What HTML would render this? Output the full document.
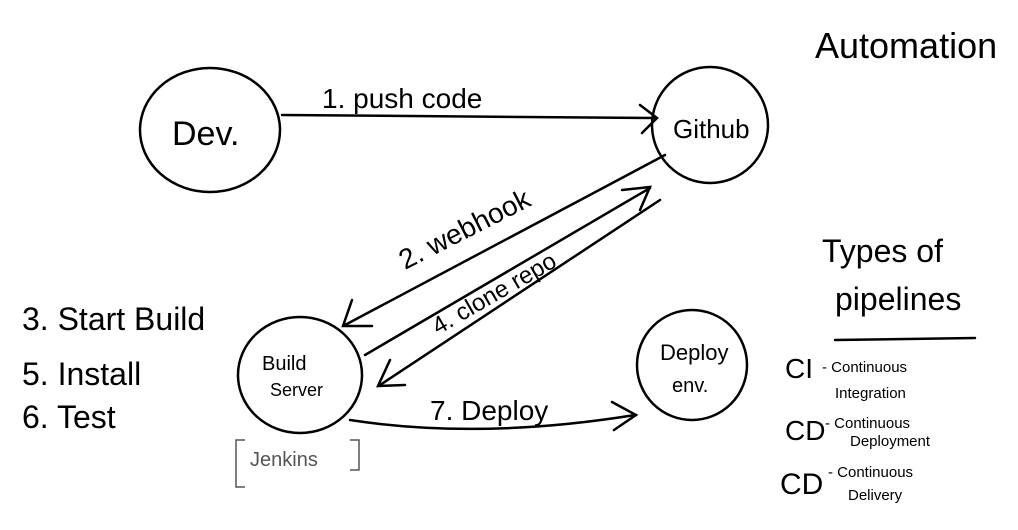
<!DOCTYPE html>
<html><head><meta charset="utf-8"><style>
html,body{margin:0;padding:0;background:#fff;}
svg{display:block}
text{font-family:"Liberation Sans",sans-serif;fill:#000}
</style></head><body>
<svg width="1018" height="530" viewBox="0 0 1018 530" xmlns="http://www.w3.org/2000/svg">
<g fill="none" stroke="#000" stroke-width="2.5" stroke-linecap="round">
<ellipse cx="210" cy="130" rx="70" ry="62"/>
<ellipse cx="710" cy="125" rx="58" ry="58"/>
<ellipse cx="300" cy="375" rx="62" ry="58"/>
<ellipse cx="692" cy="365" rx="55" ry="55"/>
<path d="M282 115 L655 118"/>
<path d="M640 105 L657 118 L642 133"/>
<path d="M665 155 L345 325"/>
<path d="M352 300 L343 326 L372 326"/>
<path d="M365 355 L650 188"/>
<path d="M622 190 L650 187 L640 210"/>
<path d="M660 200 L380 385"/>
<path d="M390 360 L378 386 L405 385"/>
<path d="M350 420 Q480 440 635 415"/>
<path d="M612 402 L636 415 L614 430"/>
<path d="M835 340 L975 338"/>
</g>
<g stroke="#555" stroke-width="1.5" fill="none">
<path d="M245 440 L236 440 L236 487 L245 487"/>
<path d="M350 440 L359 440 L359 470 L350 470"/>
</g>
<text x="172" y="145" font-size="34">Dev.</text>
<text x="673" y="138" font-size="26">Github</text>
<text x="262" y="370" font-size="20">Build</text>
<text x="270" y="396" font-size="18">Server</text>
<text x="660" y="360" font-size="22">Deploy</text>
<text x="672" y="392" font-size="20">env.</text>
<text x="322" y="108" font-size="28">1. push code</text>
<text x="430" y="420" font-size="28">7. Deploy</text>
<text transform="translate(405,270) rotate(-27)" font-size="28">2. webhook</text>
<text transform="translate(438,335) rotate(-30)" font-size="24">4. clone repo</text>
<text x="22" y="330" font-size="32">3. Start Build</text>
<text x="22" y="385" font-size="32">5. Install</text>
<text x="22" y="428" font-size="32">6. Test</text>
<text x="250" y="466" font-size="20" style="fill:#555">Jenkins</text>
<text x="815" y="58" font-size="36">Automation</text>
<text x="822" y="262" font-size="32">Types of</text>
<text x="835" y="310" font-size="32">pipelines</text>
<g style="fill:#555">
<text x="785" y="378" font-size="28">CI</text>
<text x="822" y="372" font-size="15">- Continuous</text>
<text x="835" y="398" font-size="15">Integration</text>
<text x="785" y="440" font-size="28">CD</text>
<text x="825" y="428" font-size="15">- Continuous</text>
<text x="850" y="446" font-size="15">Deployment</text>
<text x="780" y="494" font-size="30">CD</text>
<text x="828" y="477" font-size="15">- Continuous</text>
<text x="848" y="500" font-size="15">Delivery</text>
</g>
</svg>
</body></html>
